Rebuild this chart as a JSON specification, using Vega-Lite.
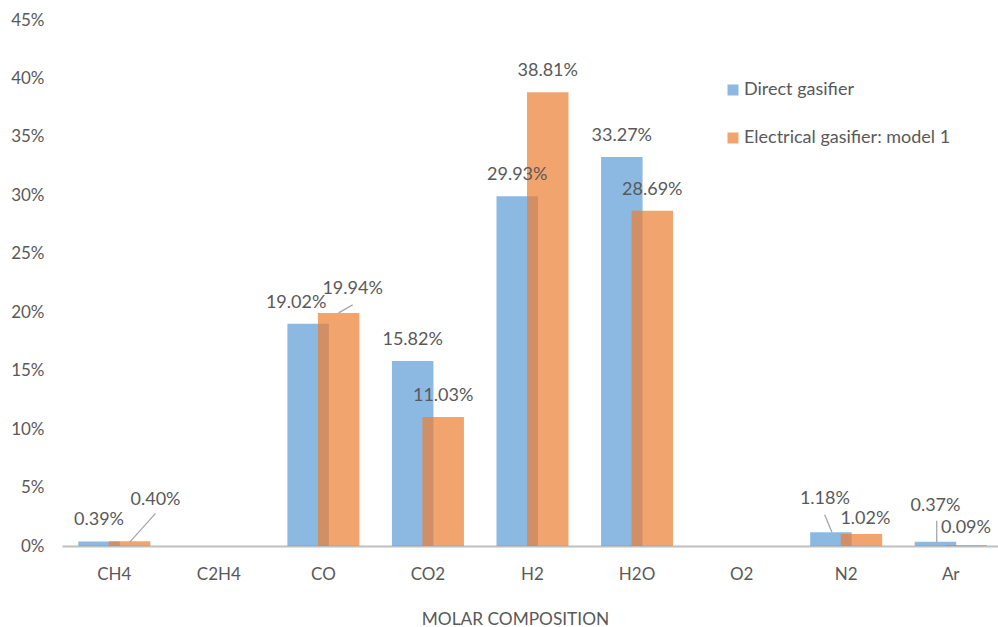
{
  "$schema": "https://vega.github.io/schema/vega-lite/v6.json",
  "width": 936,
  "height": 526,
  "autosize": {"type": "none"},
  "padding": {"left": 62, "top": 20, "right": 0, "bottom": 81},
  "background": "white",
  "config": {
    "view": {"stroke": null},
    "font": "Lato",
    "axis": {
      "labelFont": "Lato",
      "titleFont": "Lato",
      "labelColor": "#595959",
      "titleColor": "#595959",
      "labelFontSize": 17,
      "titleFontSize": 17.3,
      "titleFontWeight": "normal",
      "grid": false,
      "ticks": false,
      "tickSize": 0
    },
    "legend": {
      "labelFont": "Lato",
      "labelColor": "#595959",
      "labelFontSize": 18,
      "labelLimit": 0
    }
  },
  "data": {
    "values": [
      {"gas": "CH4", "series": "Direct gasifier", "value": 0.0039},
      {"gas": "CH4", "series": "Electrical gasifier: model 1", "value": 0.0040},
      {"gas": "CO", "series": "Direct gasifier", "value": 0.1902},
      {"gas": "CO", "series": "Electrical gasifier: model 1", "value": 0.1994},
      {"gas": "CO2", "series": "Direct gasifier", "value": 0.1582},
      {"gas": "CO2", "series": "Electrical gasifier: model 1", "value": 0.1103},
      {"gas": "H2", "series": "Direct gasifier", "value": 0.2993},
      {"gas": "H2", "series": "Electrical gasifier: model 1", "value": 0.3881},
      {"gas": "H2O", "series": "Direct gasifier", "value": 0.3327},
      {"gas": "H2O", "series": "Electrical gasifier: model 1", "value": 0.2869},
      {"gas": "N2", "series": "Direct gasifier", "value": 0.0118},
      {"gas": "N2", "series": "Electrical gasifier: model 1", "value": 0.0102},
      {"gas": "Ar", "series": "Direct gasifier", "value": 0.0037},
      {"gas": "Ar", "series": "Electrical gasifier: model 1", "value": 0.0009}
    ]
  },
  "encoding": {
    "x": {
      "field": "gas",
      "type": "nominal",
      "sort": null,
      "scale": {
        "domain": ["CH4", "C2H4", "CO", "CO2", "H2", "H2O", "O2", "N2", "Ar"],
        "range": [0, 941],
        "paddingInner": 0,
        "paddingOuter": 0
      },
      "axis": {
        "title": "MOLAR COMPOSITION",
        "labelAngle": 0,
        "domainColor": "#BFBFBF",
        "domainWidth": 2,
        "labelPadding": 20,
        "titlePadding": 28,
        "titleX": 453
      }
    },
    "y": {
      "field": "value",
      "type": "quantitative",
      "scale": {"domain": [0, 0.45], "nice": false},
      "axis": {
        "title": null,
        "domain": false,
        "format": ".0%",
        "values": [0, 0.05, 0.1, 0.15, 0.2, 0.25, 0.3, 0.35, 0.4, 0.45],
        "labelPadding": 18
      }
    }
  },
  "layer": [
    {
      "transform": [{"filter": "datum.series === 'Direct gasifier'"}],
      "mark": {"type": "bar", "width": 41.5, "xOffset": -15.25, "opacity": 0.7},
      "encoding": {
        "color": {
          "field": "series",
          "type": "nominal",
          "scale": {
            "domain": ["Direct gasifier", "Electrical gasifier: model 1"],
            "range": ["#5B9BD5", "#ED7D31"]
          },
          "legend": {
            "title": null,
            "orient": "none",
            "legendX": 662,
            "legendY": 61,
            "padding": 0,
            "symbolType": "square",
            "symbolSize": 121,
            "symbolStrokeWidth": 0,
            "symbolOpacity": 0.7,
            "labelOffset": 2,
            "rowPadding": 30
          }
        }
      }
    },
    {
      "transform": [{"filter": "datum.series === 'Electrical gasifier: model 1'"}],
      "mark": {"type": "bar", "width": 41.5, "xOffset": 15.25, "opacity": 0.7},
      "encoding": {
        "color": {"field": "series", "type": "nominal"}
      }
    },
    {
      "transform": [{"filter": "datum.series === 'Direct gasifier' && indexof(['CO', 'N2', 'Ar'], datum.gas) < 0"}],
      "mark": {"type": "text", "xOffset": -15.25, "dy": -21, "baseline": "middle", "fontSize": 18, "color": "#595959"},
      "encoding": {"text": {"field": "value", "type": "quantitative", "format": ".2%"}}
    },
    {
      "transform": [{"filter": "datum.series === 'Electrical gasifier: model 1' && indexof(['CH4', 'CO', 'N2', 'Ar'], datum.gas) < 0"}],
      "mark": {"type": "text", "xOffset": 15.25, "dy": -21, "baseline": "middle", "fontSize": 18, "color": "#595959"},
      "encoding": {"text": {"field": "value", "type": "quantitative", "format": ".2%"}}
    },
    {
      "transform": [{"filter": "datum.series === 'Direct gasifier' && datum.gas === 'CO'"}],
      "mark": {"type": "text", "xOffset": -15.25, "dx": -12, "dy": -21, "baseline": "middle", "fontSize": 18, "color": "#595959"},
      "encoding": {"text": {"field": "value", "type": "quantitative", "format": ".2%"}}
    },
    {
      "transform": [{"filter": "datum.series === 'Direct gasifier' && datum.gas === 'N2'"}],
      "mark": {"type": "text", "xOffset": -15.25, "dx": -6, "dy": -33, "baseline": "middle", "fontSize": 18, "color": "#595959"},
      "encoding": {"text": {"field": "value", "type": "quantitative", "format": ".2%"}}
    },
    {
      "transform": [{"filter": "datum.series === 'Direct gasifier' && datum.gas === 'Ar'"}],
      "mark": {"type": "text", "xOffset": -15.25, "dy": -36, "baseline": "middle", "fontSize": 18, "color": "#595959"},
      "encoding": {"text": {"field": "value", "type": "quantitative", "format": ".2%"}}
    },
    {
      "transform": [{"filter": "datum.series === 'Electrical gasifier: model 1' && datum.gas === 'CH4'"}],
      "mark": {"type": "text", "xOffset": 15.25, "dx": 26, "dy": -41, "baseline": "middle", "fontSize": 18, "color": "#595959"},
      "encoding": {"text": {"field": "value", "type": "quantitative", "format": ".2%"}}
    },
    {
      "transform": [{"filter": "datum.series === 'Electrical gasifier: model 1' && datum.gas === 'CO'"}],
      "mark": {"type": "text", "xOffset": 15.25, "dx": 14, "dy": -24, "baseline": "middle", "fontSize": 18, "color": "#595959"},
      "encoding": {"text": {"field": "value", "type": "quantitative", "format": ".2%"}}
    },
    {
      "transform": [{"filter": "datum.series === 'Electrical gasifier: model 1' && datum.gas === 'N2'"}],
      "mark": {"type": "text", "xOffset": 15.25, "dx": 4, "dy": -15, "baseline": "middle", "fontSize": 18, "color": "#595959"},
      "encoding": {"text": {"field": "value", "type": "quantitative", "format": ".2%"}}
    },
    {
      "transform": [{"filter": "datum.series === 'Electrical gasifier: model 1' && datum.gas === 'Ar'"}],
      "mark": {"type": "text", "xOffset": 15.25, "dy": -17, "baseline": "middle", "fontSize": 18, "color": "#595959"},
      "encoding": {"text": {"field": "value", "type": "quantitative", "format": ".2%"}}
    },
    {
      "transform": [{"filter": "datum.series === 'Electrical gasifier: model 1' && datum.gas === 'CH4'"}],
      "mark": {"type": "rule", "color": "#A6A6A6", "strokeWidth": 1.3, "xOffset": 15.25, "x2Offset": 41.25, "yOffset": 1, "y2Offset": -28},
      "encoding": {"x2": {"field": "gas", "bandPosition": 0.5}, "y2": {"field": "value"}}
    },
    {
      "transform": [{"filter": "datum.series === 'Electrical gasifier: model 1' && datum.gas === 'CO'"}],
      "mark": {"type": "rule", "color": "#A6A6A6", "strokeWidth": 1.3, "xOffset": 15.25, "x2Offset": 29.25, "y2Offset": -8},
      "encoding": {"x2": {"field": "gas", "bandPosition": 0.5}, "y2": {"field": "value"}}
    },
    {
      "transform": [{"filter": "datum.series === 'Direct gasifier' && datum.gas === 'N2'"}],
      "mark": {"type": "rule", "color": "#A6A6A6", "strokeWidth": 1.3, "xOffset": -14.25, "x2Offset": -21.5, "y2Offset": -17.5},
      "encoding": {"x2": {"field": "gas", "bandPosition": 0.5}, "y2": {"field": "value"}}
    },
    {
      "transform": [{"filter": "datum.series === 'Direct gasifier' && datum.gas === 'Ar'"}],
      "mark": {"type": "rule", "color": "#A6A6A6", "strokeWidth": 1.3, "xOffset": -14, "x2Offset": -14, "yOffset": 0.5, "y2Offset": -21},
      "encoding": {"x2": {"field": "gas", "bandPosition": 0.5}, "y2": {"field": "value"}}
    }
  ]
}
